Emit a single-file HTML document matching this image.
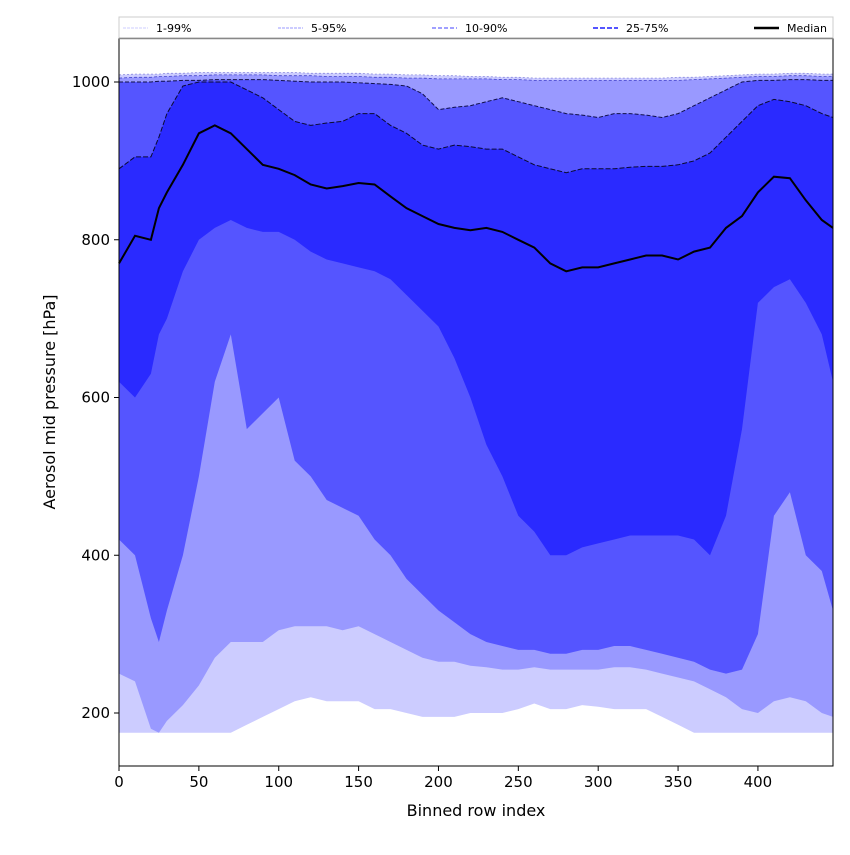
<!DOCTYPE html>
<html><head><meta charset="utf-8">
<style>
body{margin:0;background:#fff;font-family:"Liberation Sans","DejaVu Sans",sans-serif;}
svg text{font-family:"DejaVu Sans","Liberation Sans",sans-serif;}
</style></head>
<body>
<svg id="chart" width="850" height="850" xmlns="http://www.w3.org/2000/svg"></svg>
<script>
const xs   = [0,10,20,25,30,40,50,60,70,80,90,100,110,120,130,140,150,160,170,180,190,200,210,220,230,240,250,260,270,280,290,300,310,320,330,340,350,360,370,380,390,400,410,420,430,440,447];
const p1   = [175,175,175,175,175,175,175,175,175,185,195,205,215,220,215,215,215,205,205,200,195,195,195,200,200,200,205,212,205,205,210,208,205,205,205,195,185,175,175,175,175,175,175,175,175,175,175];
const p5   = [250,240,180,175,190,210,235,270,290,290,290,305,310,310,310,305,310,300,290,280,270,265,265,260,258,255,255,258,255,255,255,255,258,258,255,250,245,240,230,220,205,200,215,220,215,200,195];
const p10  = [420,400,320,290,330,400,500,620,680,560,580,600,520,500,470,460,450,420,400,370,350,330,315,300,290,285,280,280,275,275,280,280,285,285,280,275,270,265,255,250,255,300,450,480,400,380,330];
const p25  = [620,600,630,680,700,760,800,815,825,815,810,810,800,785,775,770,765,760,750,730,710,690,650,600,540,500,450,430,400,400,410,415,420,425,425,425,425,420,400,450,560,720,740,750,720,680,620];
const p75  = [890,905,905,930,960,995,1000,1000,1000,990,980,965,950,945,948,950,960,960,945,935,920,915,920,918,915,915,905,895,890,885,890,890,890,892,893,893,895,900,910,930,950,970,978,975,970,960,955];
const p90  = [1000,1000,1000,1001,1001,1002,1002,1003,1003,1003,1003,1002,1001,1000,1000,1000,999,998,997,995,985,965,968,970,975,980,975,970,965,960,958,955,960,960,958,955,960,970,980,990,1000,1002,1002,1003,1003,1002,1002];
const p95  = [1005,1006,1006,1007,1007,1008,1008,1009,1009,1009,1009,1008,1008,1008,1007,1007,1007,1006,1006,1005,1005,1004,1004,1004,1004,1003,1003,1002,1002,1002,1002,1002,1002,1002,1002,1002,1002,1003,1004,1005,1006,1007,1007,1008,1008,1007,1007];
const p99  = [1009,1010,1010,1010,1011,1011,1012,1012,1012,1012,1012,1012,1012,1011,1011,1011,1011,1010,1010,1009,1009,1008,1008,1007,1007,1006,1006,1005,1005,1005,1005,1005,1005,1005,1005,1005,1006,1006,1007,1008,1009,1010,1010,1011,1011,1010,1010];
const med  = [770,805,800,840,860,895,935,945,935,915,895,890,882,870,865,868,872,870,855,840,830,820,815,812,815,810,800,790,770,760,765,765,770,775,780,780,775,785,790,815,830,860,880,878,850,825,815];
const xTicks = [0,50,100,150,200,250,300,350,400];
const yTicks = [200,400,600,800,1000];
const legendLabels = ["1-99%","5-95%","10-90%","25-75%","Median"];

const NS="http://www.w3.org/2000/svg";
const svg=document.getElementById('chart');
const L=119,R=833,T=38,B=766;
const xMin=0,xMax=447,yMin=132.8,yMax=1055.8;
const X=v=>L+(v-xMin)/(xMax-xMin)*(R-L);
const Y=v=>B-(v-yMin)/(yMax-yMin)*(B-T);
function el(tag,attrs,parent){const e=document.createElementNS(NS,tag);for(const k in attrs)e.setAttribute(k,attrs[k]);(parent||svg).appendChild(e);return e;}
function band(lo,hi,color,name){
  let d='M'+xs.map((x,i)=>X(x).toFixed(1)+','+Y(hi[i]).toFixed(1)).join('L');
  for(let i=xs.length-1;i>=0;i--)d+='L'+X(xs[i]).toFixed(1)+','+Y(lo[i]).toFixed(1);
  const p=el('path',{d:d+'Z',fill:color});
  
  
}
function line(arr,color,w,dash,name){
  const p=el('path',{d:'M'+xs.map((x,i)=>X(x).toFixed(1)+','+Y(arr[i]).toFixed(1)).join('L'),fill:'none',stroke:color,'stroke-width':w,'stroke-dasharray':dash||'none'});
  
  
}
band(p1,p99,'#ccccff','band-1-99');
band(p5,p95,'#9999ff','band-5-95');
band(p10,p90,'#5555ff','band-10-90');
band(p25,p75,'#2a2aff','band-25-75');
line(p95,'#4444cc',0.8,'3,2','line-p95');
line(p99,'#8888dd',0.8,'2,2','line-p99');
line(p90,'#10104a',1,'4,2','line-p90');
line(p75,'#0a0a30',1,'5,2','line-p75');
line(med,'#000',2,null,'median-line');
const fr=el('rect',{x:L,y:T,width:R-L,height:B-T,fill:'none',stroke:'#000','stroke-width':1});

xTicks.forEach(t=>{
  el('line',{x1:X(t),x2:X(t),y1:B,y2:B+5,stroke:'#000'});
  const tx=el('text',{x:X(t),y:B+21,'font-size':15,'text-anchor':'middle'});tx.textContent=t;
  
});
yTicks.forEach(t=>{
  el('line',{x1:L-5,x2:L,y1:Y(t),y2:Y(t),stroke:'#000'});
  const tx=el('text',{x:L-9,y:Y(t)+5,'font-size':15,'text-anchor':'end'});tx.textContent=t;
  
});
const xl=el('text',{x:(L+R)/2,y:816,'font-size':16,'text-anchor':'middle'});xl.textContent='Binned row index';

const yl=el('text',{x:55,y:(T+B)/2,'font-size':16,'text-anchor':'middle',transform:'rotate(-90 55 '+((T+B)/2)+')'});yl.textContent='Aerosol mid pressure [hPa]';

const lg=el('g',{});

el('rect',{x:119,y:17,width:714,height:21,fill:'#fff',stroke:'#ccc','stroke-width':1},lg);
el('line',{x1:119,x2:833,y1:38.5,y2:38.5,stroke:'#888','stroke-width':1.5},lg);
const lx=[123,278,432,593,754];
const lstyle=[['#ccccff',1,'3,1'],['#9999ff',1,'3,1'],['#8080ff',1.5,'4,2'],['#5555ff',2,'5,2'],['#000',2.5,null]];
legendLabels.forEach((lab,i)=>{
  const e=el('g',{},lg);
  
  el('line',{x1:lx[i],x2:lx[i]+25,y1:28,y2:28,stroke:lstyle[i][0],'stroke-width':lstyle[i][1],'stroke-dasharray':lstyle[i][2]||'none'},e);
  const t=el('text',{x:lx[i]+33,y:32,'font-size':11},e);t.textContent=lab;
});
</script>
</body></html>
